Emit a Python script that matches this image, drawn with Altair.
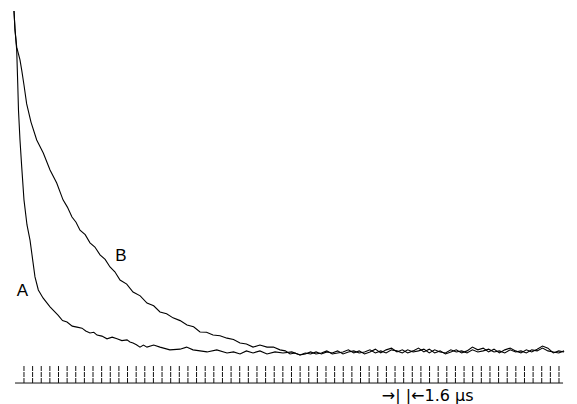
import altair as alt
import pandas as pd

# Time (µs from trace start) and relative amplitude (peak = 100)
a_time = [0, 0.09, 0.19, 0.50, 0.69, 0.83, 1.11, 1.43, 1.85, 2.41, 2.97, 3.52, 3.89, 4.51, 5.38, 6.68,
          8.16, 9.0, 9.83, 10.8, 11.68, 12.61, 13.3, 14.09, 14.8, 15.39, 16.3, 17.24, 18.2, 19.10, 20.0,
          20.95, 21.5, 22.07, 22.7, 23.36, 24.0, 24.66, 25.9, 27.07, 28.9, 30.78, 32.0, 33.19, 34.5,
          35.79, 37.6, 39.50, 40.7, 41.91, 43.1, 44.32, 45.6, 46.91, 48.4, 49.88, 51.5, 53.03]
a_amp = [100, 97.4, 94.5, 88.7, 79.1, 71.2, 62.5, 54.7, 45.1, 37.8, 33.4, 27.0, 22.7, 18.9, 16.6, 14.0,
         11.6, 10.0, 9.6, 8.4, 8.1, 7.8, 7.0, 6.4, 6.6, 5.8, 5.5, 4.7, 5.2, 4.7, 4.2,
         4.4, 3.8, 3.5, 3.0, 2.3, 2.9, 2.3, 2.9, 2.3, 1.5, 1.7, 2.3, 1.5, 1.2,
         0.9, 1.5, 0.6, 0.9, 0.3, 1.2, 0.6, 1.2, 0.3, 0.9, 0.6, 0.9, 0]

b_time = [0, 0.19, 0.50, 1.11, 1.43, 1.85, 2.35, 3.15, 4.21, 5.43, 6.68, 7.92, 9.09, 9.9, 10.75, 11.5,
          12.24, 13.2, 14.09, 15.0, 15.95, 16.9, 17.80, 18.7, 19.66, 20.9, 22.07, 23.4, 24.66, 25.9,
          27.07, 28.3, 29.48, 30.8, 32.08, 33.3, 34.49, 35.7, 36.90, 38.2, 39.50, 40.7, 41.91, 43.1,
          44.32, 45.6, 46.91, 48.1, 49.32, 50.3, 51.18, 52.1, 53.03]
b_amp = [100, 94.5, 89.5, 85.8, 82.8, 78.5, 73.0, 67.7, 62.5, 58.7, 53.8, 50.0, 45.1, 43.0, 40.1, 38.6,
         36.3, 35.0, 32.6, 31.4, 29.1, 27.8, 25.6, 24.2, 21.8, 20.6, 18.3, 17.2, 15.1, 14.3,
         12.5, 12.0, 10.8, 10.0, 8.7, 8.2, 6.7, 6.6, 5.8, 5.6, 4.9, 4.5, 3.5, 3.2,
         2.3, 2.9, 2.3, 2.3, 1.5, 1.2, 0.3, 0.6, 0]

# Common noisy tail after both traces have decayed
tail_time = [54, 55, 56, 57, 58, 59, 60, 61, 62, 63, 64, 65, 66, 67, 68, 69, 70, 71, 72, 73, 74, 75,
             76, 77, 78, 79, 80, 81, 82, 83, 84, 85, 86, 87, 88, 89, 90, 91, 92, 93, 94, 95, 96, 97,
             98, 99, 100, 101, 102]
tail_a = [0.3, 0.9, 0.3, 0.6, 1.2, 0.3, 0.6, 0.9, 1.5, 0.6, 1.2, 0.3, 0.9, 1.7, 0.6, 1.5, 2.0, 0.9,
          1.5, 0.6, 1.2, 2.0, 0.9, 1.7, 0.6, 1.2, 0.3, 0.9, 1.5, 0.6, 1.2, 2.3, 1.5, 2.0, 0.9, 1.7,
          0.6, 1.5, 2.0, 1.2, 0.6, 1.5, 0.9, 1.7, 2.6, 2.0, 0.6, 1.2, 0.9]
tail_b = [0.6, 0.3, 0.9, 0.3, 0.9, 0.6, 1.2, 0.3, 0.9, 1.2, 0.6, 0.9, 1.5, 0.6, 1.2, 0.6, 1.5, 1.2,
          0.6, 1.5, 0.9, 1.2, 1.7, 0.6, 1.5, 0.9, 0.6, 1.5, 0.9, 1.2, 0.6, 1.5, 0.9, 1.2, 1.7, 0.9,
          1.2, 0.6, 1.5, 0.9, 1.2, 0.6, 1.5, 1.2, 2.0, 1.2, 0.9, 0.6, 1.2]

# Timing marker strip: one mark every 1.6 µs
marker_period = 1.6
marker_first = 1.85
marker_count = 63
marker_base = -8.14
marker_top = -3.2
strip_start, strip_end = 0.19, 101.8

rows = []
for t, a in zip(a_time + tail_time, a_amp + tail_a):
    rows.append({"curve": "A", "t": t, "a": a})
for t, a in zip(b_time + tail_time, b_amp + tail_b):
    rows.append({"curve": "B", "t": t, "a": a})
df = pd.DataFrame(rows)
df["i"] = range(len(df))

ticks = pd.DataFrame({"t": [marker_first + marker_period * k for k in range(marker_count)]})
ticks["y1"] = marker_top
ticks["y2"] = marker_base

xs = alt.Scale(domain=[-2.596, 104.39], nice=False, zero=False)
ys = alt.Scale(domain=[-14.24, 103.2], nice=False, zero=False)

lines = alt.Chart(df).mark_line(color="black", strokeWidth=1.1, clip=True).encode(
    x=alt.X("t:Q", scale=xs, axis=None),
    y=alt.Y("a:Q", scale=ys, axis=None),
    detail="curve:N",
    order="i:Q",
)

tick_rules = alt.Chart(ticks).mark_rule(color="#111", strokeWidth=1, strokeDash=[5, 1]).encode(
    x=alt.X("t:Q", scale=xs, axis=None),
    y=alt.Y("y1:Q", scale=ys, axis=None),
    y2="y2:Q",
)

baseline = alt.Chart(pd.DataFrame({"x1": [strip_start], "x2": [strip_end], "y": [marker_base]})).mark_rule(
    color="#111", strokeWidth=1
).encode(
    x=alt.X("x1:Q", scale=xs, axis=None),
    x2="x2:Q",
    y=alt.Y("y:Q", scale=ys, axis=None),
)

labels = alt.Chart(pd.DataFrame({"t": [1.58, 19.84], "a": [18.6, 28.8], "txt": ["A", "B"]})).mark_text(
    font="Liberation Sans", fontSize=17, color="black", align="center", baseline="middle"
).encode(
    x=alt.X("t:Q", scale=xs, axis=None),
    y=alt.Y("a:Q", scale=ys, axis=None),
    text="txt:N",
)

scale_note = alt.Chart(pd.DataFrame({"t": [68.2], "a": [-13.3], "txt": ["→| |←1.6 μs"]})).mark_text(
    font="DejaVu Sans", fontSize=16, color="black", align="left", baseline="alphabetic"
).encode(
    x=alt.X("t:Q", scale=xs, axis=None),
    y=alt.Y("a:Q", scale=ys, axis=None),
    text="txt:N",
)

chart = alt.layer(tick_rules, baseline, lines, labels, scale_note).properties(
    width=577, height=404, padding=0, autosize=alt.AutoSizeParams(type="none"), background="white"
).configure_view(stroke=None)

chart.save("out.html", embed_options={"renderer": "svg", "actions": False})
